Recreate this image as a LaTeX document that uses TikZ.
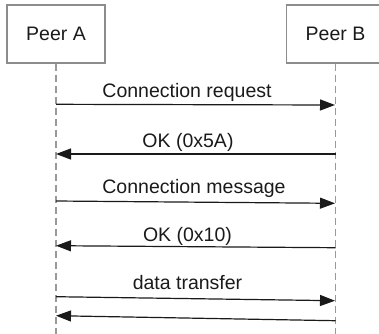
\documentclass[tikz,border=0pt]{standalone}
\usepackage{fontspec}
\setmainfont{Liberation Sans}
\usetikzlibrary{arrows.meta}
\definecolor{boxgray}{HTML}{8C8C8C}
\definecolor{linegray}{HTML}{999999}
\definecolor{ink}{HTML}{1A1A1A}
\tikzset{
  peerbox/.style={draw=boxgray, line width=1.2pt, minimum width=98pt, minimum height=58pt, inner sep=0pt, text=ink, font=\fontsize{19.5}{22}\selectfont},
  lifeline/.style={draw=linegray, line width=1.2pt, dash pattern=on 7pt off 4pt},
  msg/.style={draw=ink, line width=1.2pt, -{Triangle[length=15pt,width=11pt]}},
  msglabel/.style={anchor=base, inner sep=0pt, text=ink, font=\fontsize{19.5}{22}\selectfont},
}
\begin{document}
\begin{tikzpicture}[x=1pt, y=-1pt]
\useasboundingbox (0,0) rectangle (379,333);
\node[peerbox] (A) at (56,34) {Peer A};
\node[peerbox] (B) at (335.5,34) {Peer B};
\coordinate (Aend) at (56,334);
\coordinate (Bend) at (335.5,334);
\draw[lifeline] (A.south) -- (Aend);
\draw[lifeline] (B.south) -- (Bend);
% message end points
\coordinate (a1) at (56,104.3);  \coordinate (b1) at (335,105);
\coordinate (a2) at (56,154);    \coordinate (b2) at (335.5,154);
\coordinate (a3) at (56,201);    \coordinate (b3) at (335,203.3);
\coordinate (a4) at (56,245.7);  \coordinate (b4) at (335.5,247.7);
\coordinate (a5) at (56,296.7);  \coordinate (b5) at (335,300.7);
\coordinate (a6) at (56,315.7);  \coordinate (b6) at (335.5,320.7);
\draw[msg] (a1) -- (b1);
\draw[msg] (b2) -- (a2);
\draw[msg] (a3) -- (b3);
\draw[msg] (b4) -- (a4);
\draw[msg] (a5) -- (b5);
\draw[msg] (b6) -- (a6);
\node[msglabel] (l1) at (187,97) {Connection request};
\node[msglabel] (l2) at (188,147) {OK (0x5A)};
\node[msglabel] (l3) at (194,193) {Connection message};
\node[msglabel] (l4) at (187.5,241) {OK (0x10)};
\node[msglabel] (l5) at (187.5,289) {data transfer};
\end{tikzpicture}
\end{document}
